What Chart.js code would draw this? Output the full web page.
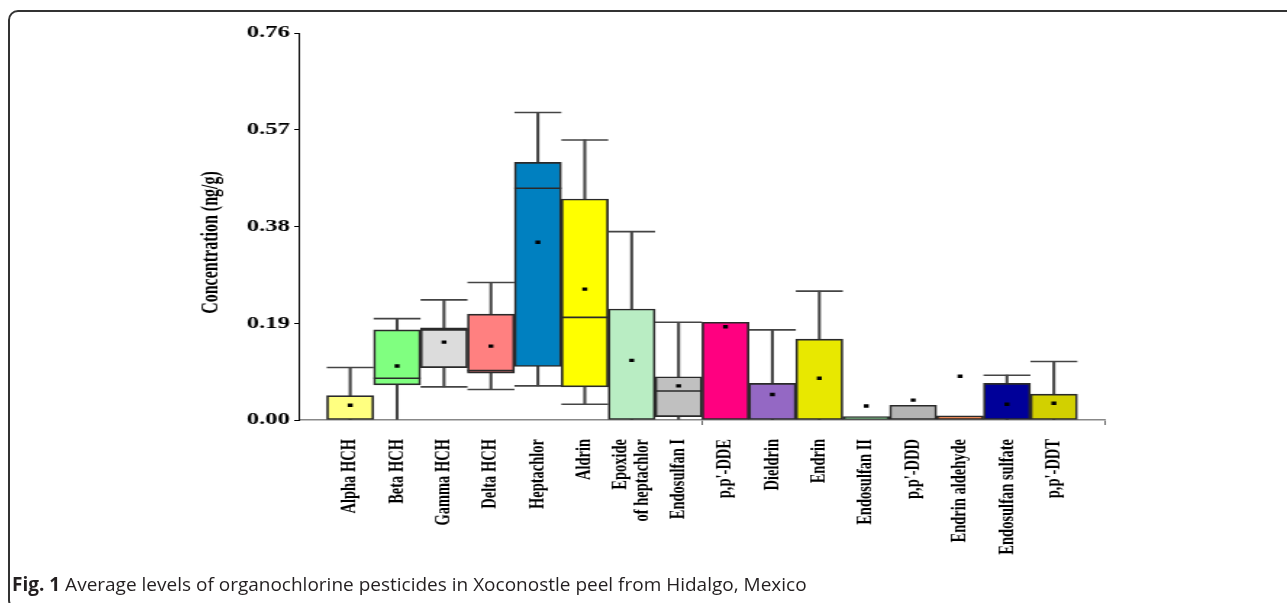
<!DOCTYPE html>
<html><head><meta charset="utf-8">
<script src="https://cdn.jsdelivr.net/npm/chart.js@4"></script>
<style>
html,body{margin:0;padding:0;background:#fff;width:1287px;height:603px;overflow:hidden;position:relative}
#frame{position:absolute;left:8px;top:10px;width:1400px;height:600px;border:2px solid #333;border-radius:10px;box-sizing:border-box}
#wrap{position:absolute;left:0;top:0;transform-origin:0 0}
#cap{position:absolute;left:12px;top:571px;font-family:'Open Sans';font-size:19px;color:#231f20;white-space:nowrap}
#cap b{font-weight:700}
</style></head><body>
<div id="frame"></div>
<div id="wrap"><canvas id="c" width="888" height="603"></canvas></div>
<div id="cap"><b>Fig. 1</b> Average levels of organochlorine pesticides in Xoconostle peel from Hidalgo, Mexico</div>
<script>
const categories = ['Alpha HCH','Beta HCH','Gamma HCH','Delta HCH','Heptachlor','Aldrin',['Epoxide','of heptachlor'],'Endosulfan I',"p,p'-DDE",'Dieldrin','Endrin','Endosulfan II',"p,p'-DDD",'Endrin aldehyde','Endosulfan sulfate',"p,p'-DDT"];
const boxLow  = [0, 0.069, 0.103, 0.092, 0.105, 0.065, 0, 0.0065, 0, 0, 0, 0, 0, 0, 0, 0];
const boxHigh = [0.048, 0.177, 0.181, 0.208, 0.506, 0.434, 0.218, 0.085, 0.192, 0.072, 0.159, 0.0065, 0.029, 0.008, 0.072, 0.051];
const medians = [null, 0.082, 0.177, 0.097, 0.455, 0.2015, null, 0.057, null, null, null, null, null, null, null, null];
const means   = [0.029, 0.106, 0.153, 0.145, 0.349, 0.257, 0.117, 0.067, 0.183, 0.050, 0.082, 0.0275, 0.039, 0.086, 0.031, 0.033];
const whiskerMax = [0.103, 0.199, 0.236, 0.270, 0.604, 0.550, 0.370, 0.192, null, 0.177, 0.253, null, null, null, 0.088, 0.115];
const whiskerMin = [null, 0, 0.065, 0.060, 0.067, 0.031, null, 0, null, null, null, null, null, null, null, null];
const colors = ['#ffff80','#80ff80','#dcdcdc','#ff8080','#0080c0','#ffff00','#b9edc3','#c0c0c0','#ff0080','#9468c4','#e8e800','#2e8b3e','#b4b4b4','#ff8040','#000099','#d2d000'];
const yTicks = [0, 0.19, 0.38, 0.57, 0.76];
const yTitle = 'Concentration (ng/g)';

const CW = 888, S = 1287 / CW;
document.getElementById('wrap').style.transform = 'scaleX(' + S + ')';
const PLOT_L = 300 / S, PLOT_R = 1105 / S, PAD_L = 136;
const XMIN = -1.07, XMAX = 16.09, GAP = 7.5;
const LBL_SIZE = 14.5, LBL_LH = 1.0;
const PX_PER_UNIT = (PLOT_R - PLOT_L) / (XMAX - XMIN);

const halfSlot = (ctx) => { const x = ctx.chart.scales.x; return Math.abs(x.getPixelForValue(0.5) - x.getPixelForValue(0)); };

const whiskerData = [], capData = [], medData = [], meanData = [], boxData = [];
categories.forEach((c, i) => {
  boxData.push({x: i, y: [boxLow[i], boxHigh[i]]});
  if (whiskerMax[i] != null || whiskerMin[i] != null) {
    whiskerData.push({x: i, y: [whiskerMin[i] != null ? whiskerMin[i] : boxLow[i], whiskerMax[i] != null ? whiskerMax[i] : boxHigh[i]]});
  }
  if (whiskerMax[i] != null) capData.push({x: i, y: whiskerMax[i]});
  if (whiskerMin[i] != null && whiskerMin[i] > 0) capData.push({x: i, y: whiskerMin[i]});
  if (medians[i] != null) medData.push({x: i, y: medians[i]});
  meanData.push({x: i, y: means[i]});
});

function buildXTicks(s) {
  const single = [], multi = [];
  categories.forEach((c, i) => {
    const lines = Array.isArray(c) ? c.length : 1;
    const shift = (lines - 1) * LBL_SIZE * LBL_LH / 2 / PX_PER_UNIT;
    (lines > 1 ? multi : single).push({value: i - shift, cat: i});
  });
  s.ticks = single.concat([{value: GAP}, {value: XMAX}], multi);
}

new Chart(document.getElementById('c'), {
  type: 'bar',
  data: {
    datasets: [
      {type: 'bar', data: whiskerData, backgroundColor: '#444', borderWidth: 0, barThickness: 1.4, grouped: false, order: 4},
      {type: 'bar', data: boxData, backgroundColor: colors, borderColor: '#2a2a2a', borderWidth: 1.7, borderSkipped: false,
       barPercentage: 1, categoryPercentage: 1, grouped: false, order: 3},
      {type: 'scatter', data: capData, pointStyle: 'line', radius: halfSlot, hoverRadius: halfSlot, borderColor: '#444', borderWidth: 1.6, order: 2},
      {type: 'scatter', data: medData, pointStyle: 'line', radius: halfSlot, hoverRadius: halfSlot, borderColor: '#2a2a2a', borderWidth: 1.6, order: 1},
      {type: 'scatter', data: meanData, pointStyle: 'rect', radius: 2.4, backgroundColor: '#000', borderWidth: 0, order: 0}
    ]
  },
  options: {
    responsive: false, animation: false, devicePixelRatio: 1,
    events: [],
    layout: {padding: {left: PAD_L, right: CW - PLOT_R, top: 33, bottom: 0}},
    plugins: {legend: {display: false}, tooltip: {enabled: false}},
    scales: {
      x: {
        type: 'linear', min: XMIN, max: XMAX, offset: false,
        grid: {offset: false, drawOnChartArea: false, drawTicks: true, tickLength: 5,
               color: (ctx) => (ctx.tick && ctx.tick.cat != null) ? 'rgba(0,0,0,0)' : '#666', lineWidth: 1},
        border: {color: '#888', width: 1.5},
        afterBuildTicks: buildXTicks,
        afterFit: (s) => { s.height = 603 - 420; },
        ticks: {
          autoSkip: false, minRotation: 90, maxRotation: 90, padding: 14, color: '#000',
          font: {family: 'Liberation Serif', weight: 'bold', size: LBL_SIZE, lineHeight: LBL_LH},
          callback: function (v, idx, ticks) { const t = ticks[idx]; return (t && t.cat != null) ? categories[t.cat] : ''; }
        }
      },
      y: {
        type: 'linear', min: 0, max: 0.76,
        afterBuildTicks: (s) => { s.ticks = yTicks.map(v => ({value: v})); },
        afterFit: (s) => { s.width = PLOT_L - PAD_L; },
        grid: {drawOnChartArea: false, drawTicks: true, tickLength: 4, color: '#000'},
        border: {color: '#000', width: 1},
        ticks: {padding: 3, color: '#000', font: {family: 'Liberation Serif', weight: 'bold', size: 17},
                callback: (v) => Number(v).toFixed(2)},
        title: {display: true, text: yTitle + '\u00a0'.repeat(8), color: '#000', padding: 0,
                font: {family: 'Liberation Serif', weight: 'bold', size: 16}}
      }
    }
  }
});
</script>
</body></html>
